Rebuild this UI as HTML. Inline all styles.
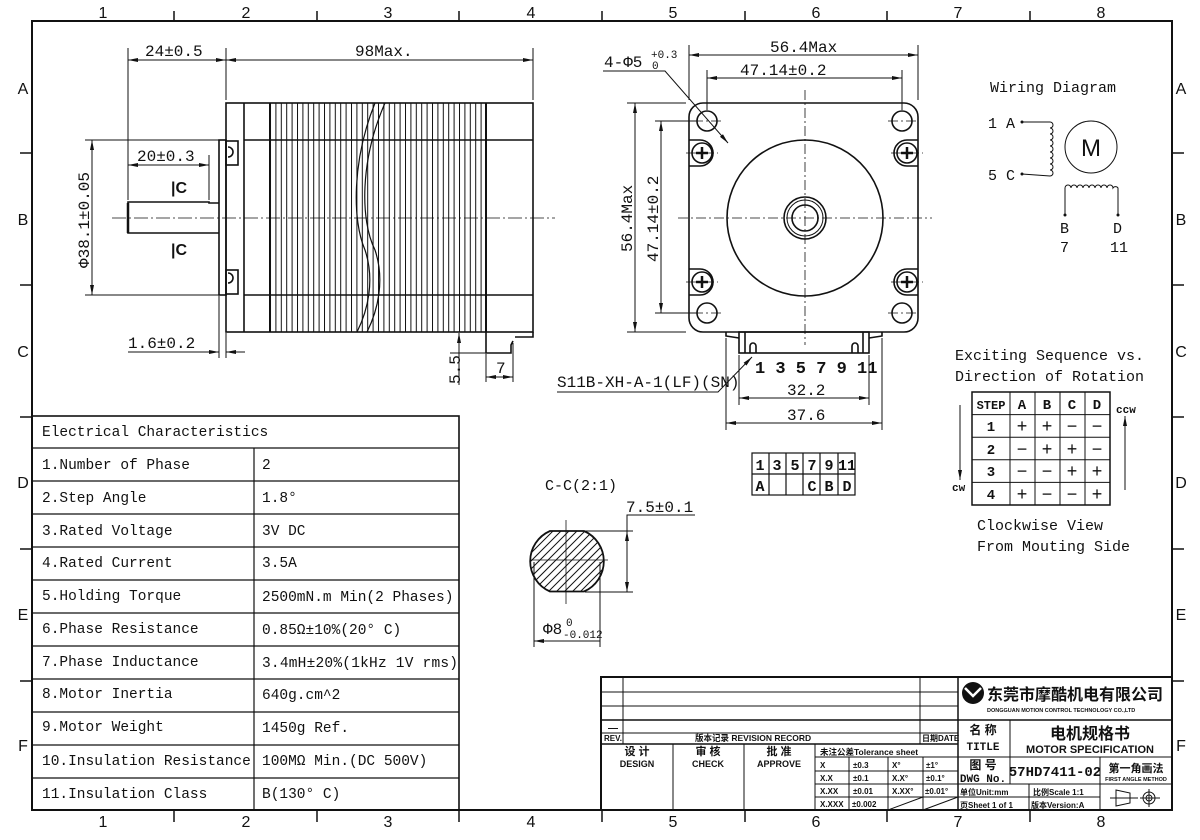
<!DOCTYPE html>
<html><head><meta charset="utf-8">
<style>
html,body{margin:0;padding:0;background:#fff;}
svg{display:block;}
text{font-family:"Liberation Mono","Noto Sans CJK SC",monospace;fill:#111;}
.s{font-family:"Liberation Sans","Noto Sans CJK SC",sans-serif;}
.cj{font-family:"Liberation Sans","Noto Sans CJK SC",sans-serif;font-weight:bold;}
</style></head>
<body>
<svg width="1200" height="840" viewBox="0 0 1200 840" xmlns="http://www.w3.org/2000/svg">
<defs>
<marker id="a" viewBox="0 0 10 4" refX="10" refY="2" markerWidth="10" markerHeight="4" markerUnits="userSpaceOnUse" orient="auto-start-reverse"><path d="M0,0 L10,2 L0,4 z" fill="#111"/></marker>
<pattern id="fins" x="270" y="0" width="5.4" height="10" patternUnits="userSpaceOnUse"><line x1="0.5" y1="0" x2="0.5" y2="10" stroke="#111" stroke-width="1"/></pattern>
<clipPath id="sec"><path d="M550,531 L584,531 A33,33 0 0 1 584,591.5 L550,591.5 A33,33 0 0 1 550,531 Z"/></clipPath>
</defs>
<rect width="1200" height="840" fill="#fff"/>

<!-- Frame -->
<rect x="32" y="21" width="1140" height="789" fill="none" stroke="#111" stroke-width="2"/>
<g stroke="#111" stroke-width="1.5">
<line x1="174" y1="11" x2="174" y2="21"/><line x1="317" y1="11" x2="317" y2="21"/><line x1="459" y1="11" x2="459" y2="21"/><line x1="602" y1="11" x2="602" y2="21"/><line x1="745" y1="11" x2="745" y2="21"/><line x1="887" y1="11" x2="887" y2="21"/><line x1="1030" y1="11" x2="1030" y2="21"/>
<line x1="174" y1="810" x2="174" y2="822"/><line x1="317" y1="810" x2="317" y2="822"/><line x1="459" y1="810" x2="459" y2="822"/><line x1="602" y1="810" x2="602" y2="822"/><line x1="745" y1="810" x2="745" y2="822"/><line x1="887" y1="810" x2="887" y2="822"/><line x1="1030" y1="810" x2="1030" y2="822"/>
<line x1="20" y1="153" x2="32" y2="153"/><line x1="20" y1="285" x2="32" y2="285"/><line x1="20" y1="417" x2="32" y2="417"/><line x1="20" y1="549" x2="32" y2="549"/><line x1="20" y1="681" x2="32" y2="681"/>
<line x1="1172" y1="153" x2="1184" y2="153"/><line x1="1172" y1="285" x2="1184" y2="285"/><line x1="1172" y1="417" x2="1184" y2="417"/><line x1="1172" y1="549" x2="1184" y2="549"/><line x1="1172" y1="681" x2="1184" y2="681"/>
</g>
<g class="s" font-size="16" text-anchor="middle">
<text class="s" x="103" y="18">1</text><text class="s" x="246" y="18">2</text><text class="s" x="388" y="18">3</text><text class="s" x="531" y="18">4</text><text class="s" x="673" y="18">5</text><text class="s" x="816" y="18">6</text><text class="s" x="958" y="18">7</text><text class="s" x="1101" y="18">8</text>
<text class="s" x="103" y="827">1</text><text class="s" x="246" y="827">2</text><text class="s" x="388" y="827">3</text><text class="s" x="531" y="827">4</text><text class="s" x="673" y="827">5</text><text class="s" x="816" y="827">6</text><text class="s" x="958" y="827">7</text><text class="s" x="1101" y="827">8</text>
<text class="s" x="23" y="94">A</text><text class="s" x="23" y="225">B</text><text class="s" x="23" y="357">C</text><text class="s" x="23" y="488">D</text><text class="s" x="23" y="620">E</text><text class="s" x="23" y="751">F</text>
<text class="s" x="1181" y="94">A</text><text class="s" x="1181" y="225">B</text><text class="s" x="1181" y="357">C</text><text class="s" x="1181" y="488">D</text><text class="s" x="1181" y="620">E</text><text class="s" x="1181" y="751">F</text>
</g>

<!-- Side view -->
<rect x="270" y="103" width="216" height="229" fill="url(#fins)"/>
<g fill="none" stroke="#111" stroke-width="1.6">
<rect x="226" y="103" width="307" height="229"/>
<line x1="244" y1="103" x2="244" y2="332"/>
<line x1="270" y1="103" x2="270" y2="332" stroke-width="2"/>
<line x1="486" y1="103" x2="486" y2="332" stroke-width="2"/>
<line x1="244" y1="140" x2="533" y2="140"/>
<line x1="244" y1="295" x2="533" y2="295"/>
<rect x="219" y="140" width="7" height="155"/>
<path d="M219,203 L209,203 L209,202 L128,202 L128,233 L219,233"/>
<line x1="128" y1="203" x2="128" y2="233" stroke-width="2.5"/>
<path d="M486,332 L486,353 L511,353 L511,345 L513,341"/>
<path d="M533,332 L533,337 L515,337"/>
<rect x="226" y="141" width="12" height="24"/><rect x="226" y="270" width="12" height="24"/>
<path d="M228,147 a5,5 0 0 1 0,10"/><path d="M228,273 a5,5 0 0 1 0,10"/>
<path d="M385,103 C360,160 360,220 375,250 C385,280 378,310 367,332" stroke-width="1.2"/>
<path d="M375,103 C352,160 352,220 365,250 C375,280 368,310 357,332" stroke-width="1.2"/>
</g>
<line x1="112" y1="218" x2="555" y2="218" stroke="#111" stroke-width="0.8" stroke-dasharray="14,3,2,3"/>
<g stroke="#111" stroke-width="1" fill="none">
<line x1="128" y1="48" x2="128" y2="200"/><line x1="226" y1="48" x2="226" y2="100"/><line x1="533" y1="48" x2="533" y2="100"/>
<line x1="128" y1="60" x2="226" y2="60" marker-start="url(#a)" marker-end="url(#a)"/>
<line x1="226" y1="60" x2="533" y2="60" marker-start="url(#a)" marker-end="url(#a)"/>
<line x1="209" y1="155" x2="209" y2="200"/>
<line x1="128" y1="165" x2="209" y2="165" marker-start="url(#a)" marker-end="url(#a)"/>
<line x1="85" y1="140" x2="219" y2="140"/><line x1="85" y1="295" x2="219" y2="295"/>
<line x1="92" y1="140" x2="92" y2="295" marker-start="url(#a)" marker-end="url(#a)"/>
<line x1="219" y1="296" x2="219" y2="358"/><line x1="226" y1="333" x2="226" y2="358"/>
<line x1="128" y1="352" x2="219" y2="352" marker-end="url(#a)"/>
<line x1="245" y1="352" x2="226" y2="352" marker-end="url(#a)"/>
<line x1="459" y1="333" x2="459" y2="385"/>
<line x1="452" y1="332" x2="466" y2="332"/>
<line x1="459" y1="356" x2="459" y2="333" marker-end="url(#a)"/>
<line x1="450" y1="353" x2="486" y2="353"/>
<line x1="486" y1="354" x2="486" y2="382"/><line x1="513" y1="343" x2="513" y2="382"/>
<line x1="486" y1="377" x2="513" y2="377" marker-start="url(#a)" marker-end="url(#a)"/>
</g>
<g font-size="16">
<text x="145" y="56">24±0.5</text>
<text x="355" y="56">98Max.</text>
<text x="137" y="161">20±0.3</text>
<text x="128" y="348">1.6±0.2</text>
<text x="496" y="373">7</text>
<text transform="translate(460,384) rotate(-90)">5.5</text>
<text transform="translate(89,268) rotate(-90)">Φ38.1±0.05</text>
<text class="cj" x="171" y="193" font-size="16">|C</text>
<text class="cj" x="171" y="255" font-size="16">|C</text>
</g>

<!-- Front view -->
<g fill="none" stroke="#111" stroke-width="1.6">
<rect x="689" y="103" width="229" height="229" rx="14"/>
<circle cx="805" cy="218" r="78"/>
<circle cx="805" cy="218" r="21"/>
<circle cx="805" cy="218" r="18" stroke-width="1"/>
<circle cx="805" cy="218" r="13"/>
<circle cx="707" cy="121" r="10"/><circle cx="902" cy="121" r="10"/><circle cx="707" cy="313" r="10"/><circle cx="902" cy="313" r="10"/>
<path d="M689,140 L700,140 a12,12 0 0 1 0,26 L689,166"/><path d="M918,140 L907,140 a12,12 0 0 0 0,26 L918,166"/>
<path d="M689,269 L700,269 a12,12 0 0 1 0,26 L689,295"/><path d="M918,269 L907,269 a12,12 0 0 0 0,26 L918,295"/>
<circle cx="702" cy="153" r="10"/><circle cx="907" cy="153" r="10"/><circle cx="702" cy="282" r="10"/><circle cx="907" cy="282" r="10"/>
<path d="M726,332 L726,336 L739,338"/><path d="M882,332 L882,336 L869,338"/>
<rect x="739" y="332" width="130" height="21"/>
<line x1="745" y1="332" x2="745" y2="353"/><line x1="863" y1="332" x2="863" y2="353"/>
<path d="M750,353 L750,346 a3,3 0 0 1 6,0 L756,353"/><path d="M852,353 L852,346 a3,3 0 0 1 6,0 L858,353"/>
</g>
<g stroke="#111" stroke-width="2.5">
<line x1="696" y1="153" x2="708" y2="153"/><line x1="702" y1="147" x2="702" y2="159"/>
<line x1="901" y1="153" x2="913" y2="153"/><line x1="907" y1="147" x2="907" y2="159"/>
<line x1="696" y1="282" x2="708" y2="282"/><line x1="702" y1="276" x2="702" y2="288"/>
<line x1="901" y1="282" x2="913" y2="282"/><line x1="907" y1="276" x2="907" y2="288"/>
</g>
<g stroke="#111" stroke-width="0.8" stroke-dasharray="10,3,2,3">
<line x1="805" y1="90" x2="805" y2="345"/><line x1="678" y1="218" x2="932" y2="218"/>
<line x1="693" y1="121" x2="721" y2="121"/><line x1="888" y1="121" x2="916" y2="121"/><line x1="693" y1="313" x2="721" y2="313"/><line x1="888" y1="313" x2="916" y2="313"/>
<line x1="686" y1="153" x2="718" y2="153"/><line x1="891" y1="153" x2="923" y2="153"/><line x1="686" y1="282" x2="718" y2="282"/><line x1="891" y1="282" x2="923" y2="282"/>
</g>
<g stroke="#111" stroke-width="1" fill="none">
<line x1="689" y1="45" x2="689" y2="100"/><line x1="918" y1="45" x2="918" y2="100"/>
<line x1="689" y1="55" x2="918" y2="55" marker-start="url(#a)" marker-end="url(#a)"/>
<line x1="707" y1="70" x2="707" y2="110"/><line x1="902" y1="70" x2="902" y2="110"/>
<line x1="707" y1="78" x2="902" y2="78" marker-start="url(#a)" marker-end="url(#a)"/>
<line x1="627" y1="103" x2="686" y2="103"/><line x1="627" y1="332" x2="686" y2="332"/>
<line x1="635" y1="103" x2="635" y2="332" marker-start="url(#a)" marker-end="url(#a)"/>
<line x1="655" y1="121" x2="697" y2="121"/><line x1="655" y1="313" x2="697" y2="313"/>
<line x1="661" y1="121" x2="661" y2="313" marker-start="url(#a)" marker-end="url(#a)"/>
<line x1="739" y1="355" x2="739" y2="405"/><line x1="869" y1="355" x2="869" y2="405"/>
<line x1="739" y1="398" x2="869" y2="398" marker-start="url(#a)" marker-end="url(#a)"/>
<line x1="726" y1="338" x2="726" y2="430"/><line x1="882" y1="338" x2="882" y2="430"/>
<line x1="726" y1="423" x2="882" y2="423" marker-start="url(#a)" marker-end="url(#a)"/>
<path d="M603,71 L665,71 L728,143" marker-end="url(#a)"/>
<path d="M557,392 L718,392 L752,357" marker-end="url(#a)"/>
</g>
<g font-size="16">
<text x="770" y="52">56.4Max</text>
<text x="740" y="75">47.14±0.2</text>
<text transform="translate(632,252) rotate(-90)">56.4Max</text>
<text transform="translate(658,262) rotate(-90)">47.14±0.2</text>
<text x="604" y="67">4-Φ5</text>
<text x="651" y="58" font-size="11">+0.3</text>
<text x="652" y="69" font-size="11">0</text>
<text x="557" y="387">S11B-XH-A-1(LF)(SN)</text>
<text x="755" y="373" font-weight="bold" font-size="17">1 3 5 7 9 11</text>
<text x="787" y="395">32.2</text>
<text x="787" y="420">37.6</text>
</g>

<!-- Wiring -->
<g font-size="15">
<text x="990" y="92">Wiring Diagram</text>
<text x="988" y="128">1 A</text>
<text x="988" y="180">5 C</text>
<text x="1060" y="233">B</text>
<text x="1060" y="252">7</text>
<text x="1113" y="233">D</text>
<text x="1110" y="252">11</text>
<text class="s" x="1091" y="156" font-size="24" text-anchor="middle">M</text>
</g>
<g fill="none" stroke="#111" stroke-width="1">
<circle cx="1091" cy="147" r="26"/>
<path d="M1022,122 L1050,122 a3,3 0 0 1 0,6 a3,3 0 0 1 0,6 a3,3 0 0 1 0,6 a3,3 0 0 1 0,6 a3,3 0 0 1 0,6 a3,3 0 0 1 0,6 a3,3 0 0 1 0,6 a3,3 0 0 1 0,6 a3,3 0 0 1 0,6 L1022,174"/>
<path d="M1065,215 L1065,188 a3,3 0 0 1 6,0 a3,3 0 0 1 6,0 a3,3 0 0 1 6,0 a3,3 0 0 1 6,0 a3,3 0 0 1 6,0 a3,3 0 0 1 6,0 a3,3 0 0 1 6,0 a3,3 0 0 1 6,0 a3,3 0 0 1 5,0 L1118,215"/>
</g>
<circle cx="1022" cy="122" r="1.5" fill="#111"/><circle cx="1022" cy="174" r="1.5" fill="#111"/><circle cx="1065" cy="215" r="1.5" fill="#111"/><circle cx="1118" cy="215" r="1.5" fill="#111"/>

<!-- Exciting sequence -->
<g font-size="15">
<text x="955" y="360">Exciting Sequence vs.</text>
<text x="955" y="381">Direction of Rotation</text>
<text x="977" y="530">Clockwise View</text>
<text x="977" y="551">From Mouting Side</text>
<text x="952" y="491" font-size="11" font-weight="bold">cw</text>
<text x="1116" y="413" font-size="11" font-weight="bold">ccw</text>
</g>
<g stroke="#111" stroke-width="1" fill="none">
<rect x="972" y="392" width="138" height="113" stroke-width="1.5"/>
<line x1="972" y1="414.6" x2="1110" y2="414.6"/><line x1="972" y1="437.2" x2="1110" y2="437.2"/><line x1="972" y1="459.8" x2="1110" y2="459.8"/><line x1="972" y1="482.4" x2="1110" y2="482.4"/>
<line x1="1010" y1="392" x2="1010" y2="505"/><line x1="1035" y1="392" x2="1035" y2="505"/><line x1="1060" y1="392" x2="1060" y2="505"/><line x1="1085" y1="392" x2="1085" y2="505"/>
<line x1="960" y1="405" x2="960" y2="480" marker-end="url(#a)"/>
<line x1="1125" y1="490" x2="1125" y2="416" marker-end="url(#a)"/>
</g>
<g font-size="14" font-weight="bold" text-anchor="middle">
<text x="991" y="409" font-size="12">STEP</text><text x="1022" y="409">A</text><text x="1047" y="409">B</text><text x="1072" y="409">C</text><text x="1097" y="409">D</text>
<text x="991" y="431">1</text><text x="991" y="454">2</text><text x="991" y="476">3</text><text x="991" y="499">4</text>
</g>
<g font-size="18" text-anchor="middle">
<text x="1022" y="432">+</text><text x="1047" y="432">+</text><text x="1072" y="432">−</text><text x="1097" y="432">−</text>
<text x="1022" y="455">−</text><text x="1047" y="455">+</text><text x="1072" y="455">+</text><text x="1097" y="455">−</text>
<text x="1022" y="477">−</text><text x="1047" y="477">−</text><text x="1072" y="477">+</text><text x="1097" y="477">+</text>
<text x="1022" y="500">+</text><text x="1047" y="500">−</text><text x="1072" y="500">−</text><text x="1097" y="500">+</text>
</g>

<!-- pin table -->
<g stroke="#111" stroke-width="1.2" fill="none">
<rect x="752" y="453" width="103" height="42"/>
<line x1="752" y1="474" x2="855" y2="474"/>
<line x1="769" y1="453" x2="769" y2="495"/><line x1="786" y1="453" x2="786" y2="495"/><line x1="803" y1="453" x2="803" y2="495"/><line x1="820" y1="453" x2="820" y2="495"/><line x1="838" y1="453" x2="838" y2="495"/>
</g>
<g font-size="15" font-weight="bold" text-anchor="middle">
<text x="760" y="470">1</text><text x="777" y="470">3</text><text x="795" y="470">5</text><text x="812" y="470">7</text><text x="829" y="470">9</text><text x="847" y="470">11</text>
<text x="760" y="491">A</text><text x="812" y="491">C</text><text x="829" y="491">B</text><text x="847" y="491">D</text>
</g>

<!-- Section C-C -->
<g clip-path="url(#sec)" stroke="#111" stroke-width="1">
<line x1="500" y1="600" x2="580" y2="520"/><line x1="508" y1="600" x2="588" y2="520"/><line x1="516" y1="600" x2="596" y2="520"/><line x1="524" y1="600" x2="604" y2="520"/><line x1="532" y1="600" x2="612" y2="520"/><line x1="540" y1="600" x2="620" y2="520"/><line x1="548" y1="600" x2="628" y2="520"/><line x1="556" y1="600" x2="636" y2="520"/><line x1="564" y1="600" x2="644" y2="520"/><line x1="572" y1="600" x2="652" y2="520"/><line x1="580" y1="600" x2="660" y2="520"/><line x1="588" y1="600" x2="668" y2="520"/><line x1="492" y1="600" x2="572" y2="520"/><line x1="484" y1="600" x2="564" y2="520"/><line x1="476" y1="600" x2="556" y2="520"/>
</g>
<path d="M550,531 L584,531 A33,33 0 0 1 584,591.5 L550,591.5 A33,33 0 0 1 550,531 Z" fill="none" stroke="#111" stroke-width="1.8"/>
<g stroke="#111" stroke-width="0.8">
<line x1="566" y1="520" x2="566" y2="604"/><line x1="530" y1="560" x2="608" y2="560"/>
</g>
<g stroke="#111" stroke-width="1" fill="none">
<line x1="585" y1="531" x2="633" y2="531"/><line x1="585" y1="592" x2="633" y2="592"/>
<line x1="627" y1="531" x2="627" y2="592" marker-start="url(#a)" marker-end="url(#a)"/>
<path d="M627,531 L627,515 L695,515"/>
<line x1="534" y1="562" x2="534" y2="647"/><line x1="600" y1="562" x2="600" y2="647"/>
<line x1="534" y1="641" x2="600" y2="641" marker-start="url(#a)"/>
</g>
<g font-size="15">
<text x="545" y="490">C-C(2:1)</text>
<text x="626" y="512" font-size="16">7.5±0.1</text>
<text x="543" y="634" font-size="16">Φ8</text>
<text x="566" y="626" font-size="11">0</text>
<text x="563" y="638" font-size="11">-0.012</text>
</g>

<!-- Electrical characteristics -->
<g stroke="#111" stroke-width="1.2" fill="none">
<rect x="32" y="416" width="427" height="394" stroke-width="1.6"/>
<line x1="32" y1="448" x2="459" y2="448"/>
<line x1="254" y1="448" x2="254" y2="810"/>
<line x1="32" y1="481" x2="459" y2="481"/><line x1="32" y1="514" x2="459" y2="514"/><line x1="32" y1="547" x2="459" y2="547"/><line x1="32" y1="580" x2="459" y2="580"/><line x1="32" y1="613" x2="459" y2="613"/><line x1="32" y1="646" x2="459" y2="646"/><line x1="32" y1="679" x2="459" y2="679"/><line x1="32" y1="712" x2="459" y2="712"/><line x1="32" y1="745" x2="459" y2="745"/><line x1="32" y1="778" x2="459" y2="778"/>
</g>
<g font-size="14.5">
<text x="42" y="436">Electrical Characteristics</text>
<text x="42" y="469">1.Number of Phase</text><text x="262" y="469">2</text>
<text x="42" y="502">2.Step Angle</text><text x="262" y="502">1.8°</text>
<text x="42" y="535">3.Rated Voltage</text><text x="262" y="535">3V DC</text>
<text x="42" y="567">4.Rated Current</text><text x="262" y="567">3.5A</text>
<text x="42" y="600">5.Holding Torque</text><text x="262" y="601">2500mN.m Min(2 Phases)</text>
<text x="42" y="633">6.Phase Resistance</text><text x="262" y="634">0.85Ω±10%(20° C)</text>
<text x="42" y="666">7.Phase Inductance</text><text x="262" y="667" textLength="196">3.4mH±20%(1kHz 1V rms)</text>
<text x="42" y="698">8.Motor Inertia</text><text x="262" y="699">640g.cm^2</text>
<text x="42" y="731">9.Motor Weight</text><text x="262" y="732">1450g Ref.</text>
<text x="42" y="765">10.Insulation Resistance</text><text x="262" y="765">100MΩ Min.(DC 500V)</text>
<text x="42" y="798">11.Insulation Class</text><text x="262" y="798">B(130° C)</text>
</g>

<!-- Title block -->
<g stroke="#111" stroke-width="1" fill="none">
<rect x="601" y="677" width="571" height="133" stroke-width="2"/>
<line x1="601" y1="692" x2="958" y2="692"/><line x1="601" y1="706" x2="958" y2="706"/><line x1="601" y1="720" x2="1172" y2="720" stroke-width="1.5"/><line x1="601" y1="733" x2="958" y2="733"/><line x1="601" y1="744" x2="958" y2="744" stroke-width="1.5"/>
<line x1="623" y1="677" x2="623" y2="744"/><line x1="920" y1="677" x2="920" y2="744"/>
<line x1="958" y1="677" x2="958" y2="810" stroke-width="1.5"/>
<line x1="673" y1="744" x2="673" y2="810"/><line x1="744" y1="744" x2="744" y2="810"/><line x1="815" y1="744" x2="815" y2="810"/>
<line x1="815" y1="757" x2="1172" y2="757"/>
<line x1="815" y1="771" x2="958" y2="771"/><line x1="815" y1="784" x2="1172" y2="784"/><line x1="815" y1="797" x2="1100" y2="797"/>
<line x1="849" y1="757" x2="849" y2="810"/><line x1="888" y1="757" x2="888" y2="810"/><line x1="923" y1="757" x2="923" y2="810"/>
<line x1="888" y1="810" x2="923" y2="797"/><line x1="923" y1="810" x2="958" y2="797"/>
<line x1="1010" y1="720" x2="1010" y2="784"/><line x1="1100" y1="757" x2="1100" y2="810"/><line x1="1029" y1="784" x2="1029" y2="810"/>
<path d="M1116,790 L1130,793 L1130,803 L1116,806 Z"/><line x1="1110" y1="798" x2="1138" y2="798"/>
<circle cx="1149" cy="798" r="6"/><circle cx="1149" cy="798" r="3"/><line x1="1140" y1="798" x2="1160" y2="798"/><line x1="1149" y1="789" x2="1149" y2="807"/>
</g>
<circle cx="973" cy="693" r="11" fill="#111"/>
<path d="M965,688 L973,696 L981,688" stroke="#fff" stroke-width="2.5" fill="none"/>
<g class="cj">
<text class="cj" x="987" y="700" font-size="16">东莞市摩酷机电有限公司</text>
<text class="cj" x="987" y="712" font-size="5.5">DONGGUAN MOTION CONTROL TECHNOLOGY CO.,LTD</text>
<text class="cj" x="604" y="741" font-size="8">REV.</text>
<text class="cj" x="608" y="731" font-size="10">—</text>
<text class="cj" x="695" y="741" font-size="8.5">版本记录 REVISION RECORD</text>
<text class="cj" x="922" y="741" font-size="8">日期DATE</text>
<text class="cj" x="637" y="755" font-size="11" text-anchor="middle">设 计</text><text class="cj" x="637" y="767" font-size="9" text-anchor="middle">DESIGN</text>
<text class="cj" x="708" y="755" font-size="11" text-anchor="middle">审 核</text><text class="cj" x="708" y="767" font-size="9" text-anchor="middle">CHECK</text>
<text class="cj" x="779" y="755" font-size="11" text-anchor="middle">批 准</text><text class="cj" x="779" y="767" font-size="9" text-anchor="middle">APPROVE</text>
<text class="cj" x="820" y="755" font-size="8.5">未注公差Tolerance sheet</text>
<text class="cj" x="820" y="768" font-size="8">X</text><text class="cj" x="853" y="768" font-size="8">±0.3</text><text class="cj" x="892" y="768" font-size="8">X°</text><text class="cj" x="926" y="768" font-size="8">±1°</text>
<text class="cj" x="820" y="781" font-size="8">X.X</text><text class="cj" x="853" y="781" font-size="8">±0.1</text><text class="cj" x="892" y="781" font-size="8">X.X°</text><text class="cj" x="926" y="781" font-size="8">±0.1°</text>
<text class="cj" x="820" y="794" font-size="8">X.XX</text><text class="cj" x="853" y="794" font-size="8">±0.01</text><text class="cj" x="892" y="794" font-size="8">X.XX°</text><text class="cj" x="925" y="794" font-size="8">±0.01°</text>
<text class="cj" x="820" y="807" font-size="8">X.XXX</text><text class="cj" x="852" y="807" font-size="8">±0.002</text>
<text class="cj" x="983" y="734" font-size="12" text-anchor="middle">名 称</text>
<text x="983" y="750" font-size="11" text-anchor="middle">TITLE</text>
<text class="cj" x="1090" y="739" font-size="16" text-anchor="middle">电机规格书</text>
<text class="cj" x="1090" y="753" font-size="11" text-anchor="middle">MOTOR SPECIFICATION</text>
<text class="cj" x="983" y="769" font-size="12" text-anchor="middle">图 号</text>
<text x="983" y="782" font-size="11" text-anchor="middle">DWG No.</text>
<text x="1055" y="776" font-size="14" text-anchor="middle">57HD7411-02</text>
<text class="cj" x="1136" y="772" font-size="11" text-anchor="middle">第一角画法</text>
<text class="cj" x="1136" y="781" font-size="5.5" text-anchor="middle">FIRST ANGLE METHOD</text>
<text class="cj" x="960" y="795" font-size="8">单位Unit:mm</text>
<text class="cj" x="1033" y="795" font-size="8">比例Scale 1:1</text>
<text class="cj" x="960" y="808" font-size="8">页Sheet 1 of 1</text>
<text class="cj" x="1031" y="808" font-size="8">版本Version:A</text>
</g>
</svg>
</body></html>
